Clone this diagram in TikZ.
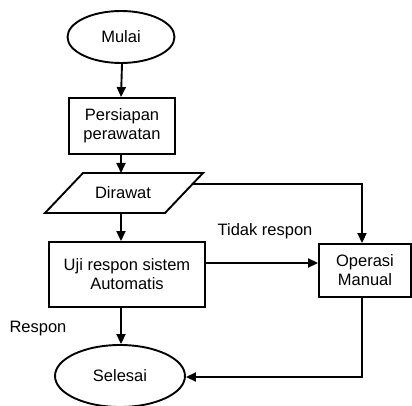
\documentclass[tikz,border=0pt]{standalone}
\usepackage{fontspec}
\setmainfont{Liberation Sans}
\usetikzlibrary{shapes.geometric,arrows.meta}
\begin{document}
\begin{tikzpicture}[x=1pt,y=-1pt,
  every node/.style={font=\fontsize{16.5}{19}\selectfont, align=center, inner sep=0pt},
  term/.style={draw, ellipse, line width=1.9pt},
  procbox/.style={draw, rectangle, line width=1.9pt},
  conn/.style={line width=1.9pt, -{Triangle[length=10pt,width=9pt]}},
  plain/.style={line width=1.9pt}]
\useasboundingbox (0,0) rectangle (412,406);
\node[term, minimum width=107pt, minimum height=52pt] (mulai) at (121,37) {Mulai};
\node[procbox, minimum width=106pt, minimum height=56pt] (prep) at (122,126) {Persiapan\\perawatan};
\draw[plain] (45,213) -- (165,213) -- (203,173) -- (83,173) -- cycle;
\node (dir) at (123,193) {Dirawat};
\coordinate (dirtop) at (121,173);
\coordinate (dirbot) at (121,213);
\coordinate (dirright) at (192.5,184);
\node[procbox, minimum width=156pt, minimum height=65pt] (uji) at (127,274.5) {Uji respon sistem\\Automatis};
\node[procbox, minimum width=92pt, minimum height=53pt] (op) at (365,270.5) {Operasi\\Manual};
\node[term, minimum width=130pt, minimum height=62pt] (sel) at (120,376) {Selesai};
\node (tidak) at (265,231) {Tidak respon};
\node (respon) at (38,329) {Respon};
\draw[conn] (mulai.south -| prep.north) -- (prep.north -| mulai.south);
\draw[conn] (prep.south -| dirtop) -- (dirtop);
\draw[conn] (dirbot) -- (dirbot |- uji.north);
\draw[conn] (dirright) -| (op.north -| 362,0);
\draw[conn] (uji.east |- 0,263) -- (op.west |- 0,263);
\draw[conn] (uji.south -| 121,0) -- (sel.north -| 121,0);
\draw[conn] (op.south -| 362,0) |- (sel.east |- 0,377);
\end{tikzpicture}
\end{document}
